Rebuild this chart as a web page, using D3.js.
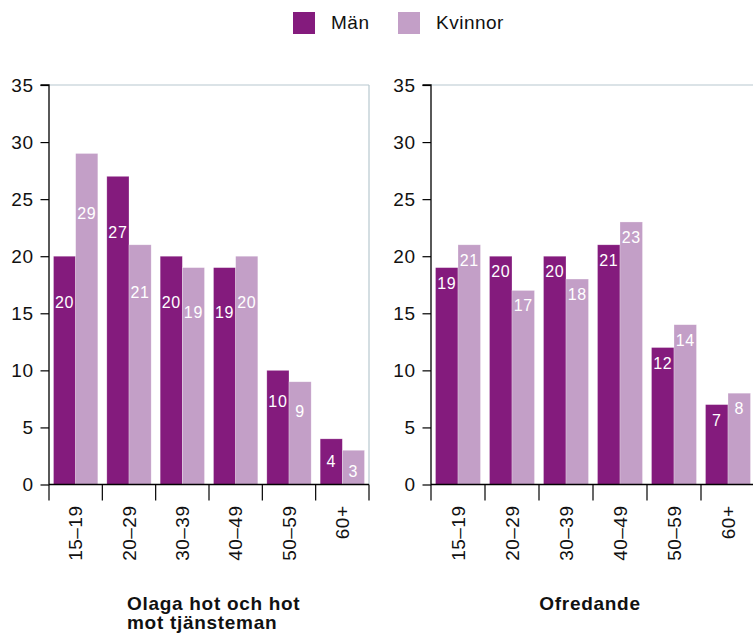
<!DOCTYPE html>
<html>
<head>
<meta charset="utf-8">
<script src="https://cdn.jsdelivr.net/npm/d3@7"></script>
<style>
  html, body { margin: 0; padding: 0; background: #fff; }
  svg { display: block; font-family: "Liberation Sans", Arial, sans-serif; }
</style>
</head>
<body>
<svg id="chart" width="753" height="636"></svg>
<script>
// ---- data ----
const categories = ["15–19", "20–29", "30–39", "40–49", "50–59", "60+"];
const seriesNames = ["Män", "Kvinnor"];
const seriesColors = ["#841b7d", "#c39fc7"];
const hotMan = [20, 27, 20, 19, 10, 4];
const hotKvinnor = [29, 21, 19, 20, 9, 3];
const ofrMan = [19, 20, 20, 21, 12, 7];
const ofrKvinnor = [21, 17, 18, 23, 14, 8];
const yTickValues = [0, 5, 10, 15, 20, 25, 30, 35];
const panelTitles = [["Olaga hot och hot", "mot tjänsteman"], ["Ofredande"]];

const svg = d3.select("#chart");
const axisColor = "#000";
const frameColor = "#b8c8cf";

const panels = [
  { title: panelTitles[0], values: [hotMan, hotKvinnor], x0: 49, x1: 369, titleX: 127, titleAnchor: "start",
    labelOffset: h => 22 + 0.13 * h },
  { title: panelTitles[1], values: [ofrMan, ofrKvinnor], x0: 431, x1: 755, titleX: 590, titleAnchor: "middle",
    labelOffset: h => 21 }
];

const yTop = 85, yBottom = 484.5;
const y = d3.scaleLinear().domain([0, 35]).range([yBottom, yTop]);

panels.forEach(p => {
  const g = svg.append("g");
  const x = d3.scaleBand().domain(categories).range([p.x0, p.x1]).padding(0);
  const inner = d3.scaleBand().domain(seriesNames).range([4.5, x.bandwidth() - 4.5]).padding(0);

  // frame (top and right)
  g.append("line").attr("x1", p.x0).attr("x2", p.x1).attr("y1", yTop).attr("y2", yTop)
    .attr("stroke", frameColor).attr("stroke-width", 1.2);
  g.append("line").attr("x1", p.x1).attr("x2", p.x1).attr("y1", yTop).attr("y2", yBottom)
    .attr("stroke", frameColor).attr("stroke-width", 1.2);

  // bars
  seriesNames.forEach((s, si) => {
    const vals = p.values[si];
    g.selectAll(null).data(categories).enter().append("rect")
      .attr("x", (c) => x(c) + inner(s))
      .attr("width", inner.bandwidth())
      .attr("y", (c, i) => y(vals[i]))
      .attr("height", (c, i) => y(0) - y(vals[i]))
      .attr("fill", seriesColors[si])
      .attr("stroke", "rgba(255,255,255,0.45)")
      .attr("stroke-width", 0.6);
    g.selectAll(null).data(categories).enter().append("text")
      .attr("x", (c) => x(c) + inner(s) + inner.bandwidth() / 2)
      .attr("y", (c, i) => y(vals[i]) + p.labelOffset(y(0) - y(vals[i])))
      .attr("text-anchor", "middle")
      .attr("fill", "#fff")
      .attr("font-size", 16)
      .attr("letter-spacing", 0.7)
      .text((c, i) => vals[i]);
  });

  // y axis
  const yAxis = d3.axisLeft(y).tickValues(yTickValues).tickSize(8.5).tickPadding(7).tickFormat(d3.format("d"));
  const ya = g.append("g").attr("transform", `translate(${p.x0},0)`).call(yAxis);
  ya.select(".domain").attr("stroke", axisColor).attr("stroke-width", 1.3).attr("d", `M-8.5,${yTop}H0V${yBottom}`);
  ya.selectAll(".tick line").attr("stroke", axisColor).attr("stroke-width", 1.2);
  ya.selectAll(".tick text").attr("font-size", 19).attr("letter-spacing", 0.5).attr("fill", "#111")
    .attr("font-family", "'Liberation Sans', Arial, sans-serif");

  // x axis
  const xa = g.append("g").attr("transform", `translate(0,${yBottom})`);
  xa.append("line").attr("x1", p.x0).attr("x2", p.x1).attr("y1", 0).attr("y2", 0)
    .attr("stroke", axisColor).attr("stroke-width", 1.3);
  const boundaries = categories.map(c => x(c)).concat([x.range()[1]]);
  xa.selectAll(null).data(boundaries).enter().append("line")
    .attr("x1", d => d).attr("x2", d => d).attr("y1", 0).attr("y2", 16)
    .attr("stroke", axisColor).attr("stroke-width", 1.2);
  xa.selectAll(null).data(categories).enter().append("text")
    .attr("transform", c => `translate(${x(c) + x.bandwidth() / 2},21) rotate(-90)`)
    .attr("text-anchor", "end")
    .attr("dy", "0.35em")
    .attr("font-size", 19)
    .attr("letter-spacing", 0.5)
    .attr("fill", "#111")
    .text(c => c);

  // panel title
  const t = svg.append("text")
    .attr("x", p.titleX).attr("y", 610)
    .attr("text-anchor", p.titleAnchor)
    .attr("font-size", 19).attr("font-weight", "bold").attr("letter-spacing", 0.7).attr("fill", "#111");
  p.title.forEach((line, li) => {
    t.append("tspan").attr("x", p.titleX).attr("dy", li === 0 ? 0 : 19).text(line);
  });
});

// legend
const legendX = [293, 398];
const lg = svg.append("g");
seriesNames.forEach((s, i) => {
  lg.append("rect").attr("x", legendX[i]).attr("y", 12).attr("width", 22).attr("height", 22)
    .attr("fill", seriesColors[i]);
  lg.append("text").attr("x", legendX[i] + 38).attr("y", 29)
    .attr("font-size", 19).attr("letter-spacing", 0.5).attr("fill", "#111").text(s);
});
</script>
</body>
</html>
